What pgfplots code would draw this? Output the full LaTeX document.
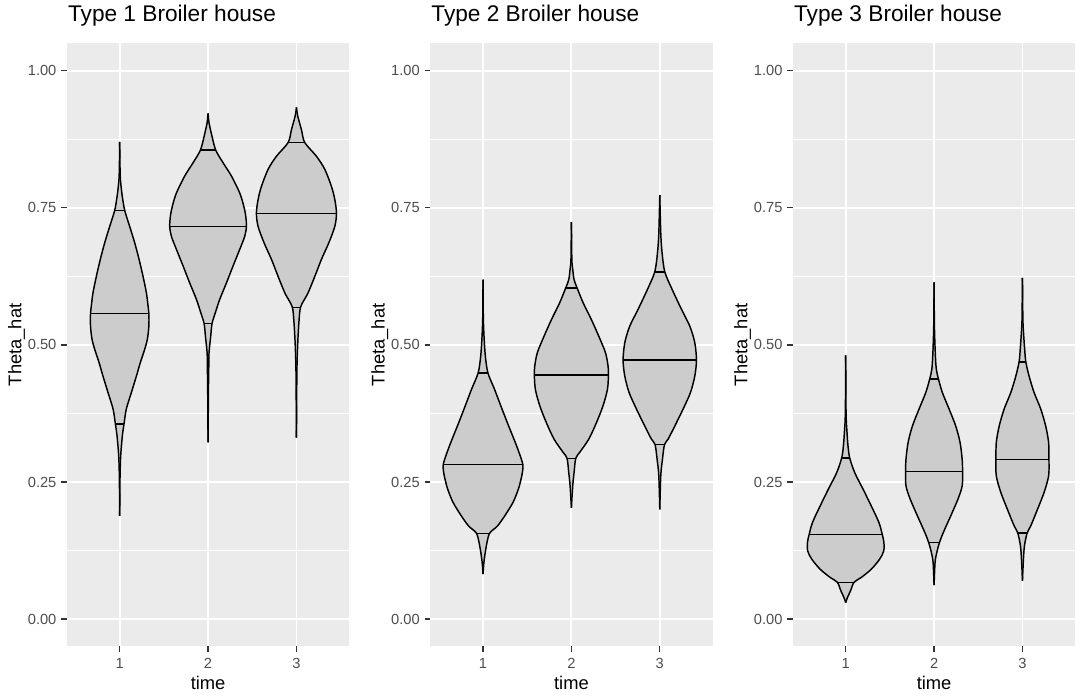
\documentclass[border=0pt]{standalone}
\usepackage{fontspec}
\setmainfont{Liberation Sans}
\usepackage{pgfplots}
\pgfplotsset{compat=1.18}
\usepackage{pgfplotstable}
\usepgfplotslibrary{fillbetween}
\definecolor{bgc}{HTML}{EBEBEB}
\definecolor{vfill}{HTML}{CCCCCC}
\definecolor{tickc}{HTML}{333333}
\definecolor{labc}{HTML}{4D4D4D}

% ---------- Type 1 ----------
\pgfplotstableread{
y w
0.188 0
0.230 0.002
0.261 0.004
0.297 0.011
0.334 0.030
0.356 0.049
0.383 0.075
0.413 0.132
0.443 0.189
0.468 0.234
0.492 0.283
0.510 0.313
0.534 0.330
0.557 0.330
0.575 0.318
0.595 0.302
0.625 0.264
0.656 0.219
0.686 0.170
0.716 0.113
0.745 0.057
0.770 0.030
0.790 0.015
0.808 0.006
0.840 0.002
0.870 0
}\vAa
\pgfplotstableread{
y w
0.322 0
0.413 0.004
0.460 0.008
0.486 0.011
0.516 0.030
0.539 0.045
0.559 0.083
0.583 0.132
0.613 0.208
0.644 0.283
0.674 0.358
0.698 0.415
0.716 0.434
0.735 0.426
0.753 0.404
0.777 0.358
0.808 0.264
0.832 0.170
0.855 0.087
0.880 0.045
0.905 0.011
0.922 0
}\vAb
\pgfplotstableread{
y w
0.331 0
0.450 0.005
0.504 0.015
0.546 0.030
0.568 0.045
0.580 0.080
0.595 0.132
0.625 0.208
0.656 0.283
0.686 0.366
0.716 0.434
0.740 0.453
0.765 0.434
0.789 0.396
0.820 0.321
0.844 0.226
0.869 0.094
0.892 0.057
0.917 0.015
0.933 0
}\vAc
% ---------- Type 2 ----------
\pgfplotstableread{
y w
0.082 0
0.100 0.008
0.115 0.019
0.140 0.045
0.156 0.072
0.163 0.115
0.170 0.165
0.188 0.245
0.213 0.340
0.237 0.400
0.255 0.430
0.270 0.448
0.282 0.450
0.298 0.420
0.322 0.365
0.352 0.290
0.383 0.215
0.419 0.130
0.449 0.055
0.480 0.026
0.516 0.011
0.553 0.003
0.619 0
}\vBa
\pgfplotstableread{
y w
0.203 0
0.243 0.015
0.267 0.030
0.293 0.049
0.304 0.094
0.328 0.196
0.358 0.283
0.389 0.358
0.419 0.408
0.445 0.419
0.461 0.415
0.486 0.385
0.516 0.309
0.546 0.226
0.577 0.132
0.604 0.064
0.619 0.030
0.638 0.015
0.656 0.005
0.724 0
}\vBb
\pgfplotstableread{
y w
0.200 0
0.261 0.011
0.291 0.030
0.318 0.053
0.328 0.094
0.352 0.170
0.383 0.264
0.413 0.347
0.443 0.396
0.472 0.415
0.504 0.396
0.534 0.340
0.565 0.245
0.601 0.140
0.633 0.057
0.668 0.026
0.704 0.011
0.773 0
}\vBc
% ---------- Type 3 ----------
\pgfplotstableread{
y w
0.030 0
0.039 0.019
0.052 0.056
0.067 0.094
0.076 0.177
0.091 0.290
0.109 0.383
0.124 0.430
0.140 0.432
0.154 0.414
0.176 0.376
0.206 0.290
0.237 0.196
0.267 0.102
0.294 0.045
0.316 0.026
0.340 0.015
0.376 0.004
0.481 0
}\vCa
\pgfplotstableread{
y w
0.062 0
0.103 0.011
0.121 0.030
0.140 0.062
0.158 0.105
0.188 0.188
0.219 0.271
0.243 0.318
0.269 0.322
0.291 0.318
0.322 0.294
0.352 0.245
0.383 0.170
0.413 0.094
0.438 0.049
0.455 0.026
0.480 0.015
0.534 0.004
0.614 0
}\vCb
\pgfplotstableread{
y w
0.070 0
0.109 0.011
0.134 0.023
0.157 0.053
0.170 0.094
0.200 0.170
0.231 0.245
0.261 0.296
0.291 0.300
0.322 0.296
0.352 0.263
0.383 0.207
0.413 0.132
0.443 0.075
0.469 0.038
0.490 0.026
0.515 0.015
0.546 0.005
0.622 0
}\vCc

\pgfplotsset{
  vline/.style={draw=black, line width=1.1pt},
  ggpanel/.style={
    set layers,
    at={(#1,37.9pt)}, anchor=south west,
    scale only axis, width=212.1pt, height=452.4pt,
    xmin=0.4, xmax=3.6, ymin=-0.05, ymax=1.05,
    axis background/.style={fill=bgc},
    axis line style={draw=none},
    xtick={1,2,3}, xticklabels={1,2,3},
    ytick={0,0.25,0.5,0.75,1}, yticklabels={0.00,0.25,0.50,0.75,1.00},
    minor ytick={0.125,0.375,0.625,0.875},
    ymajorgrids, yminorgrids, xmajorgrids,
    major grid style={draw=white, line width=1.4pt},
    minor grid style={draw=white, line width=0.7pt},
    tick align=outside, major tick length=3.9pt, minor tick length=0pt,
    xtick pos=left, ytick pos=left,
    tick style={draw=tickc, line width=1pt},
    ticklabel style={font=\fontsize{11}{13}\selectfont, text=labc},
    yticklabel style={anchor=east, inner sep=0pt, xshift=-3.6pt},
    xticklabel style={anchor=north, inner sep=0pt, yshift=-4.9pt},
    xlabel={time}, ylabel={Theta\_hat},
    label style={font=\fontsize{13.75}{16}\selectfont},
    xlabel style={at={(axis description cs:0.5,-0.0721)}, anchor=base, inner sep=0pt},
    ylabel style={at={(axis description cs:-0.1603,0.5)}, anchor=base, inner sep=0pt},
    title style={at={(axis description cs:0.004,1.0232)}, anchor=base west, inner sep=0pt, font=\fontsize{17}{20}\selectfont},
  }
}
\newcommand{\violin}[3]{%
  \addplot[vline, smooth, name path=#3L] table[x expr=#1-\thisrow{w}, y=y] {#2};
  \addplot[vline, smooth, name path=#3R] table[x expr=#1+\thisrow{w}, y=y] {#2};
  \addplot[fill=vfill, draw=none] fill between[of=#3L and #3R];
}
\newcommand{\qline}[3]{\addplot[vline] coordinates {(#1,#3) (#2,#3)};}

\begin{document}
\begin{tikzpicture}
\path (0,0) rectangle (813pt,522.75pt);

\begin{axis}[ggpanel=50pt, title={Type 1 Broiler house}]
\violin{1}{\vAa}{aa}
\violin{2}{\vAb}{ab}
\violin{3}{\vAc}{ac}
\qline{0.951}{1.049}{0.356}
\qline{0.670}{1.330}{0.557}
\qline{0.943}{1.057}{0.745}
\qline{1.955}{2.045}{0.539}
\qline{1.566}{2.434}{0.716}
\qline{1.913}{2.087}{0.855}
\qline{2.955}{3.045}{0.568}
\qline{2.547}{3.453}{0.740}
\qline{2.906}{3.094}{0.869}
\end{axis}

\begin{axis}[ggpanel=322.5pt, title={Type 2 Broiler house}]
\violin{1}{\vBa}{ba}
\violin{2}{\vBb}{bb}
\violin{3}{\vBc}{bc}
\qline{0.928}{1.072}{0.156}
\qline{0.550}{1.450}{0.282}
\qline{0.945}{1.055}{0.449}
\qline{1.951}{2.049}{0.293}
\qline{1.581}{2.419}{0.445}
\qline{1.936}{2.064}{0.604}
\qline{2.947}{3.053}{0.318}
\qline{2.585}{3.415}{0.472}
\qline{2.943}{3.057}{0.633}
\end{axis}

\begin{axis}[ggpanel=594.5pt, title={Type 3 Broiler house}]
\violin{1}{\vCa}{ca}
\violin{2}{\vCb}{cb}
\violin{3}{\vCc}{cc}
\qline{0.906}{1.094}{0.067}
\qline{0.586}{1.414}{0.154}
\qline{0.955}{1.045}{0.294}
\qline{1.938}{2.062}{0.140}
\qline{1.680}{2.320}{0.269}
\qline{1.951}{2.049}{0.438}
\qline{2.947}{3.053}{0.157}
\qline{2.700}{3.300}{0.291}
\qline{2.962}{3.038}{0.469}
\end{axis}
\end{tikzpicture}
\end{document}
